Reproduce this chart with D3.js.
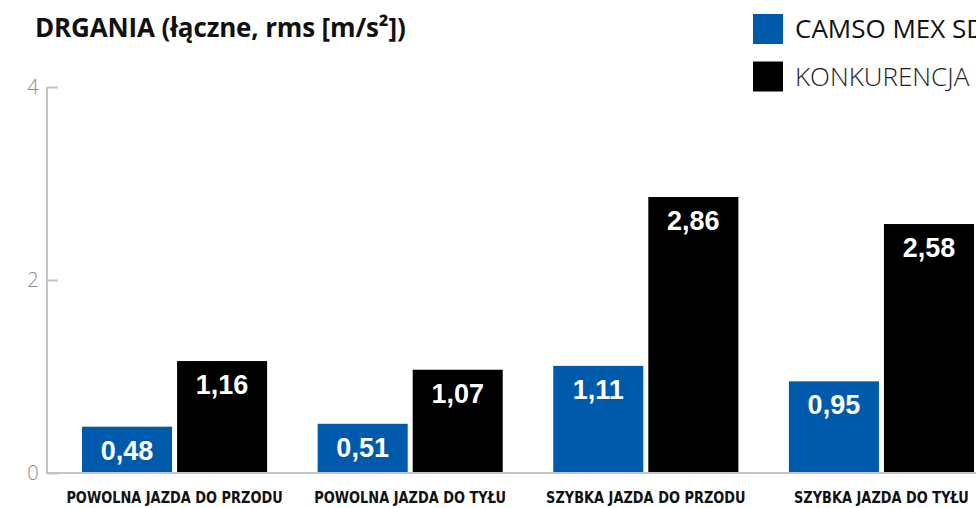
<!DOCTYPE html>
<html>
<head>
<meta charset="utf-8">
<script src="https://cdn.jsdelivr.net/npm/d3@7"></script>
<style>
  html, body { margin: 0; padding: 0; background: #fff; overflow: hidden; }
  svg { display: block; }
</style>
</head>
<body>
<svg id="chart" width="976" height="508"></svg>
<script>
// Vibration (total rms) per driving mode
const categories = [
  "POWOLNA JAZDA DO PRZODU",
  "POWOLNA JAZDA DO TYŁU",
  "SZYBKA JAZDA DO PRZODU",
  "SZYBKA JAZDA DO TYŁU"
];
const seriesNames = ["CAMSO MEX SD", "KONKURENCJA"];
const camsoValues = [0.48, 0.51, 1.11, 0.95];
const competitionValues = [1.16, 1.07, 2.86, 2.58];
const yTicks = [0, 2, 4];
const seriesColors = ["#005aab", "#000000"];

const svg = d3.select("#chart");
const width = 976, height = 508;
const baseY = 473, topY = 87, axisX = 47;

const y = d3.scaleLinear().domain([0, 4]).range([baseY, topY]);
const x0 = d3.scaleBand().domain(categories).range([82, 974])
  .paddingInner(0.2144).paddingOuter(0);
const x1 = d3.scaleBand().domain(seriesNames).range([0, x0.bandwidth()])
  .paddingInner(5 / 95).paddingOuter(0);

const rows = categories.map((c, i) => ({
  category: c,
  values: [
    { series: seriesNames[0], value: camsoValues[i] },
    { series: seriesNames[1], value: competitionValues[i] }
  ]
}));

// Title
svg.append("text")
  .attr("x", 35).attr("y", 37)
  .attr("font-family", "'Open Sans', sans-serif")
  .attr("font-weight", 700)
  .attr("font-size", 26)
  .attr("letter-spacing", -0.15)
  .attr("fill", "#111")
  .text("DRGANIA (łączne, rms [m/s²])");

// Y axis
const yAxis = d3.axisRight(y).tickValues(yTicks).tickSize(11).tickFormat(d3.format("d"));
const gy = svg.append("g").attr("transform", `translate(${axisX},0)`).call(yAxis);
gy.select(".domain").attr("stroke", "#c4c4c4").attr("stroke-width", 2)
  .attr("d", `M0,${topY}V${baseY}`);
gy.selectAll(".tick line").attr("stroke", "#c4c4c4").attr("stroke-width", 2);
gy.selectAll(".tick text")
  .attr("x", -14).attr("dy", "0.32em")
  .attr("text-anchor", "middle")
  .attr("fill", "#8a8a8a")
  .attr("font-family", "'Open Sans', sans-serif")
  .attr("font-weight", 300)
  .attr("font-size", 20);

// Baseline across the plot
svg.append("line")
  .attr("x1", axisX - 1).attr("x2", width)
  .attr("y1", y(0)).attr("y2", y(0))
  .attr("stroke", "#c4c4c4").attr("stroke-width", 2);

// Bars
const groups = svg.append("g").selectAll("g")
  .data(rows).join("g")
  .attr("transform", d => `translate(${x0(d.category)},0)`);

groups.selectAll("rect")
  .data(d => d.values).join("rect")
  .attr("x", d => x1(d.series))
  .attr("y", d => y(d.value))
  .attr("width", x1.bandwidth())
  .attr("height", d => y(0) - y(d.value) - 1)
  .attr("fill", (d, i) => seriesColors[i]);

groups.selectAll("text.val")
  .data(d => d.values).join("text")
  .attr("class", "val")
  .attr("x", d => x1(d.series) + x1.bandwidth() / 2)
  .attr("y", d => y(d.value) + 33)
  .attr("text-anchor", "middle")
  .attr("fill", "#fff")
  .attr("font-family", "'Liberation Sans', Arial, sans-serif")
  .attr("font-weight", 700)
  .attr("font-size", 27)
  .text(d => d3.format(".2f")(d.value).replace(".", ","));

// Category labels (condensed bold, squeezed horizontally)
const catScaleX = 0.9;
svg.append("g").selectAll("text")
  .data(categories).join("text")
  .attr("transform", d => `translate(${x0(d) + x0.bandwidth() / 2},503) scale(${catScaleX},1)`)
  .attr("text-anchor", "middle")
  .attr("font-family", "'Liberation Sans Narrow', 'DejaVu Sans Condensed', sans-serif")
  .attr("font-weight", 700)
  .attr("font-size", 16)
  .attr("fill", "#111")
  .text(d => d);

// Legend
const legend = svg.append("g").selectAll("g")
  .data(seriesNames).join("g")
  .attr("transform", (d, i) => `translate(753,${14 + i * 47.5})`);
legend.append("rect")
  .attr("width", 30).attr("height", 30)
  .attr("fill", (d, i) => seriesColors[i]);
legend.append("text")
  .attr("x", 42).attr("y", 24)
  .attr("font-family", "'Open Sans', sans-serif")
  .attr("font-weight", (d, i) => i === 0 ? 400 : 300)
  .attr("font-size", 26)
  .attr("fill", (d, i) => i === 0 ? "#111" : "#222")
  .text(d => d);
</script>
</body>
</html>
